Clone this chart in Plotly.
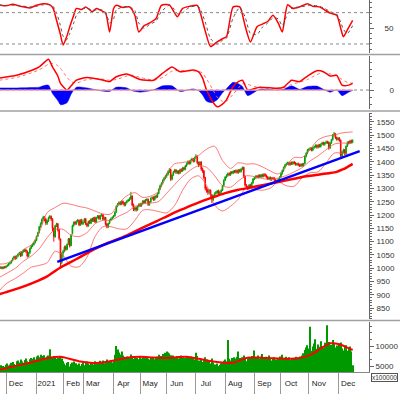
import plotly.graph_objects as go

FONT = "Liberation Sans, Arial, sans-serif"

# ---------------- x axis (trading-day index) ----------------
month_idx = [5, 28, 48, 63, 86, 106, 126, 148, 170, 192, 212, 233, 255]
month_labels = ["Dec", "2021", "Feb", "Mar", "Apr", "May", "Jun", "Jul", "Aug", "Sep", "Oct", "Nov", "Dec"]

# ---------------- daily OHLC ----------------
opens = [998,1001,1004,1000,1005,1003,1008,1011,1018,1021,1029,1038,1044,1037,1046,1053,1059,1047,1063,1066,
 1069,1064,1045,1058,1076,1085,1089,1097,1105,1121,1134,1157,1168,1185,1193,1185,1169,1178,1191,1195,
 1186,1150,1118,1161,1167,1145,1110,1022,1058,1064,1081,1071,1091,1111,1085,1130,1161,1173,1167,1177,
 1180,1162,1182,1167,1173,1186,1167,1159,1177,1169,1186,1177,1191,1173,1191,1197,1185,1199,1201,1183,
 1191,1166,1154,1169,1181,1187,1192,1197,1211,1233,1241,1247,1240,1251,1245,1237,1247,1253,1257,1261,
 1271,1239,1221,1227,1219,1233,1241,1235,1243,1253,1246,1257,1259,1239,1249,1263,1266,1257,1271,1267,
 1281,1297,1311,1319,1331,1339,1346,1353,1363,1371,1334,1351,1363,1369,1359,1365,1357,1371,1365,1377,
 1371,1385,1393,1401,1393,1406,1411,1401,1416,1421,1397,1387,1399,1373,1366,1341,1299,1295,1284,1293,
 1275,1257,1273,1281,1283,1291,1281,1287,1293,1311,1331,1343,1349,1356,1351,1361,1357,1365,1361,1367,
 1359,1369,1363,1373,1379,1346,1311,1306,1299,1313,1305,1321,1336,1341,1346,1341,1349,1343,1351,1345,
 1353,1349,1343,1335,1341,1333,1339,1339,1333,1329,1325,1335,1343,1356,1367,1379,1388,1393,1396,1389,
 1397,1392,1399,1395,1389,1393,1389,1384,1391,1385,1393,1421,1433,1445,1447,1451,1443,1453,1457,1461,
 1454,1463,1457,1466,1471,1465,1471,1475,1473,1451,1471,1483,1501,1505,1491,1483,1489,1481,1421,1437,
 1445,1429,1459,1473,1469,1479,1473]
highs = [1005,1007,1008,1007,1009,1011,1015,1020,1024,1031,1040,1047,1048,1049,1056,1062,1063,1065,1071,1073,
 1074,1067,1061,1078,1087,1093,1099,1108,1123,1137,1159,1172,1187,1197,1196,1188,1182,1194,1200,1198,
 1188,1153,1163,1171,1170,1148,1112,1060,1070,1085,1086,1093,1114,1114,1128,1164,1176,1178,1180,1185,
 1183,1184,1186,1177,1188,1189,1171,1179,1181,1188,1190,1193,1194,1193,1200,1200,1201,1205,1204,1194,
 1193,1170,1171,1184,1190,1195,1200,1214,1236,1245,1251,1252,1254,1255,1249,1250,1256,1261,1266,1287,
 1274,1243,1231,1232,1235,1244,1246,1246,1256,1257,1260,1263,1262,1252,1266,1270,1270,1273,1276,1284,
 1300,1314,1323,1334,1343,1350,1357,1367,1376,1373,1354,1366,1373,1372,1368,1368,1374,1375,1380,1381,
 1388,1397,1405,1405,1409,1415,1414,1419,1428,1424,1401,1402,1402,1378,1368,1343,1306,1300,1297,1296,
 1279,1276,1285,1290,1294,1295,1291,1297,1313,1334,1346,1353,1359,1360,1364,1365,1368,1369,1371,1371,
 1372,1373,1376,1382,1381,1348,1316,1310,1316,1317,1324,1339,1344,1349,1350,1352,1353,1354,1355,1356,
 1357,1352,1346,1344,1345,1342,1343,1342,1337,1333,1338,1346,1359,1370,1382,1391,1397,1400,1400,1400,
 1401,1402,1403,1399,1396,1397,1393,1394,1395,1396,1423,1436,1448,1451,1455,1455,1456,1461,1465,1465,
 1466,1467,1469,1475,1475,1474,1479,1479,1476,1474,1486,1504,1512,1508,1494,1493,1492,1483,1440,1449,
 1448,1461,1476,1478,1482,1483,1484]
lows = [994,998,996,997,999,1000,1005,1008,1014,1018,1026,1034,1032,1034,1042,1049,1042,1045,1058,1061,
 1058,1040,1042,1055,1072,1080,1085,1093,1102,1117,1131,1152,1164,1180,1176,1162,1163,1174,1185,1178,
 1140,1100,1115,1155,1138,1105,1005,1015,1040,1060,1066,1068,1088,1078,1083,1127,1156,1162,1163,1172,
 1158,1160,1164,1162,1170,1162,1154,1156,1166,1166,1174,1174,1170,1171,1187,1182,1182,1194,1180,1180,
 1160,1150,1151,1166,1177,1183,1188,1194,1208,1229,1236,1236,1237,1239,1232,1233,1243,1249,1252,1257,
 1232,1215,1214,1213,1216,1229,1230,1231,1239,1242,1243,1252,1234,1235,1246,1258,1253,1254,1262,1264,
 1278,1293,1306,1315,1326,1334,1340,1348,1358,1328,1330,1347,1358,1354,1354,1352,1354,1361,1362,1367,
 1368,1380,1388,1389,1390,1401,1397,1398,1411,1390,1380,1383,1366,1358,1334,1292,1284,1276,1278,1268,
 1245,1252,1268,1276,1279,1277,1276,1282,1290,1308,1327,1338,1344,1346,1347,1353,1353,1357,1356,1355,
 1355,1359,1359,1368,1340,1306,1299,1293,1296,1301,1302,1317,1331,1336,1337,1337,1339,1339,1341,1341,
 1343,1337,1331,1331,1329,1328,1333,1327,1323,1320,1321,1331,1340,1351,1362,1374,1383,1388,1385,1385,
 1388,1388,1389,1385,1385,1383,1380,1380,1381,1381,1390,1416,1428,1439,1442,1439,1439,1448,1452,1449,
 1450,1453,1453,1461,1461,1460,1466,1467,1445,1448,1467,1479,1495,1485,1479,1479,1475,1412,1415,1432,
 1425,1426,1455,1465,1466,1469,1470]
closes = [1001,1004,1000,1004,1003,1008,1011,1017,1020,1028,1037,1043,1036,1046,1052,1058,1047,1062,1066,1068,
 1064,1046,1058,1075,1084,1088,1096,1104,1120,1133,1156,1167,1184,1192,1184,1170,1178,1190,1194,1185,
 1150,1119,1160,1166,1144,1112,1024,1056,1063,1080,1072,1090,1110,1084,1125,1160,1172,1168,1176,1179,
 1163,1181,1168,1172,1185,1166,1160,1176,1170,1185,1178,1190,1174,1190,1196,1186,1198,1200,1184,1190,
 1165,1155,1168,1180,1186,1191,1196,1210,1232,1240,1246,1241,1250,1244,1238,1246,1252,1256,1260,1270,
 1238,1222,1226,1220,1232,1240,1236,1242,1252,1247,1256,1258,1240,1248,1262,1265,1258,1270,1268,1280,
 1296,1310,1318,1330,1338,1345,1352,1362,1370,1335,1350,1362,1368,1360,1364,1358,1370,1366,1376,1372,
 1384,1392,1400,1394,1405,1410,1402,1415,1420,1396,1388,1398,1372,1365,1340,1300,1294,1285,1292,1276,
 1258,1272,1280,1284,1290,1282,1286,1292,1310,1330,1342,1348,1355,1352,1360,1358,1364,1362,1366,1360,
 1368,1364,1372,1378,1345,1312,1305,1300,1312,1306,1320,1335,1340,1345,1342,1348,1344,1350,1346,1352,
 1348,1342,1336,1340,1334,1338,1338,1332,1328,1326,1334,1342,1355,1366,1378,1387,1392,1395,1390,1396,
 1393,1398,1394,1390,1392,1388,1385,1390,1386,1392,1420,1432,1444,1446,1450,1444,1452,1456,1460,1455,
 1462,1458,1465,1470,1466,1470,1474,1472,1452,1470,1482,1500,1504,1490,1484,1488,1480,1422,1436,1444,
 1430,1458,1472,1470,1478,1474,1480]
volumes = [4600,5200,4400,5000,4800,5300,5600,5100,5400,5800,6000,5500,5200,6200,6400,5900,6600,6100,5800,6500,
 6900,6200,5600,6700,7000,6800,7200,6600,7400,7600,7200,7800,7500,7300,7700,7000,7400,7600,9200,7300,
 7100,7500,7200,6800,7000,6600,7400,6900,6200,5600,5200,5800,6000,4900,5500,5900,6100,5400,5700,5300,
 5600,5000,5500,5900,5200,5800,6100,5600,5300,6000,5700,5400,6200,5800,5500,6000,6300,5900,6400,5700,
 6200,6600,6000,6300,6500,5900,6400,7800,10000,9100,8400,7900,8600,7600,7300,7000,7400,6800,7200,7900,
 7500,6800,7100,6600,7000,6700,7300,6900,7200,6500,7000,7300,6800,6600,7100,6900,7200,6700,7000,7400,
 7800,7300,7500,8000,7600,8300,8600,8400,8100,7700,7400,7600,7200,7000,7500,6900,7300,7600,7100,6800,
 7000,7300,6900,7200,7400,6800,7100,6600,8300,7500,6400,6200,6700,6000,6500,7200,6600,5800,6300,5600,
 6900,5900,5400,5200,5600,5000,5300,5700,6000,6300,6600,6100,11500,6800,6400,7000,6600,7200,6900,7300,
 8600,7000,6600,7200,7600,6800,6200,6900,7300,7000,7500,6900,8900,7200,7000,7600,6800,7400,8000,7100,
 6700,7300,6900,7600,7000,6400,6800,7200,6600,6300,6900,7400,7100,7800,7000,6600,7300,6800,7200,6500,
 7000,6400,6800,7300,6700,6900,7400,7100,7600,8200,9000,9600,10200,9400,14800,8800,9900,10600,11700,9300,
 10400,9800,11200,10000,9500,10800,10200,15200,11000,9700,10300,11500,10900,9600,10100,9800,10600,10900,9400,8900,
 9800,10200,8800,9500,9900,8600,5200]
days = list(range(len(closes)))

# ---------------- Bollinger bands (read at sample days) ----------------
bb_idx = [0,5,12,18,24,30,36,42,48,54,60,66,72,78,84,90,96,102,108,114,120,126,132,138,144,150,156,162,168,174,
          180,186,192,198,204,210,216,222,228,234,240,246,252,258,264,266]
bb_upper = [1016,1018,1038,1070,1088,1135,1209,1228,1244,1240,1232,1226,1215,1204,1204,1244,1272,1284,1266,1271,
            1289,1356,1392,1397,1403,1423,1447,1458,1405,1375,1396,1391,1392,1381,1365,1354,1386,1416,1416,1447,
            1482,1495,1500,1508,1511,1512]
bb_mid = [966,980,1000,1026,1046,1073,1115,1146,1146,1124,1119,1134,1167,1180,1180,1196,1210,1232,1242,1245,
          1251,1282,1314,1345,1369,1385,1379,1348,1310,1304,1328,1347,1344,1337,1333,1339,1348,1362,1378,1403,
          1422,1445,1466,1470,1469,1470]
bb_lower = [916,942,962,982,1004,1011,1021,1064,1048,1008,1006,1042,1119,1156,1156,1148,1148,1180,1218,1219,
            1213,1208,1236,1293,1335,1347,1311,1238,1215,1233,1260,1303,1296,1293,1301,1324,1310,1308,1340,1359,
            1362,1395,1432,1432,1427,1428]

# ---------------- long moving average (thick red) ----------------
ma_idx = [0,10,20,28,36,46,54,60,72,82,93,106,119,128,136,148,160,170,180,186,196,206,216,224,232,241,248,254,258,262,266]
ma_long = [903,918,935,951,970,1003,1024,1040,1073,1096,1117,1148,1178,1200,1218,1243,1265,1282,1295,1300,
           1310,1320,1330,1338,1346,1352,1357,1362,1370,1380,1392]

# ---------------- trend line (blue) ----------------
trend_idx = [43.6, 271.3]
trend_val = [1024, 1440]

# ---------------- stochastic ----------------
stoch_idx = [0,5,10,16,23,28,33,38,40.5,43,45.7,48,50.7,53,56,58,62,65,70,73,76,80,83,86,88,93,98,102,105,109,
             113,118,122,128,132,134,138,143,149,151,155,159,164,168,171,176,181,185,189,194,198,202,206,210,213,
             217,221,226,232,236,241,245,249,254,257,259,262,266]
stoch_k = [95,93,96,92,89,94,97,95,88,66,41,18,34,53,75,88,86,91,82,88,85,79,43,88,94,90,91,75,43,55,
           60,69,94,95,79,72,88,92,94,82,45,15,24,30,34,91,91,55,24,53,58,63,75,60,43,
           95,88,91,97,92,91,85,79,75,50,34,47,65]
stoch_d = [94,94,94,93,91,92,95,95,92,80,58,35,28,40,60,75,86,89,85,85,86,81,60,68,85,91,91,84,60,50,
           57,64,82,94,86,78,80,90,93,88,62,30,20,27,31,70,90,72,40,38,52,60,70,68,55,
           78,90,90,94,94,92,88,82,77,62,48,40,55]
stoch_levels = [20, 80]

# ---------------- MACD ----------------
macd_idx = [0,13,25,30,33,37,40,44,46,51,54,58,66,76,83,88,96,100,106,116,123,130,136,146,150,153,156,160,164,168,
            171,176,180,183,187,196,209,214,220,226,232,239,244,249,254,258,263,266]
macd_line = [17,21,28.6,33,38,44,33,20,9.5,0,6,14,18,15,12,19,23,20,15,14,24,33,26,28.6,26,17,0,-15,-24,-20,
             -14,5,12,14,0,4,2.4,4,14,12,20,27.6,26,20,21,7,7,9.5]
macd_signal = [14,18,25,29,32,37,38,35,31,18,12,10,15,16,14,15,20,21,18,14,18,27,28,27,27,24,16,3,-10,-16,
               -16,-6,3,9,8,3,2.5,3,8,11,15,22,25,23,21,15,10,10]
macd_hist = [3,3,3.6,4,6,7,-5,-15,-21,-18,-6,4,3,-1,-2,4,3,-1,-3,0,6,6,-2,1.6,-1,-7,-16,-18,-14,-4,
             2,11,9,5,-8,1,0,1,6,1,5,5.6,1,-3,0,-8,-3,-0.5]

# ---------------- volume moving average ----------------
volma_idx = [0,12,23,35,46,54,61,71,80,88,97,106,116,126,134,141,150,161,170,176,186,193,201,210,219,226,231,236,242,249,
             253,257,262,266]
vol_ma = [4000,5000,5800,6900,7300,6700,6100,5750,6000,6500,7100,7300,7100,7000,7200,7300,6800,6100,5800,5800,
          7000,7100,7000,6900,6800,7000,7400,8100,9400,10700,10600,10300,9600,9000]

# ---------------- axis labels ----------------
price_ticks = list(range(850, 1551, 50))
vol_ticks = [5000, 10000]
vol_tick_text = ["5000", "10000"]

X_RANGE = [0.48, 278.3]
H = 372.0  # plot-area height in px


def dom(top_px, bot_px):
    return [1 - bot_px / H, 1 - top_px / H]


fig = go.Figure()

# stochastic panel
fig.add_trace(go.Scatter(x=stoch_idx, y=stoch_k, mode="lines", xaxis="x", yaxis="y",
                         line=dict(color="#ff0000", width=1.5, shape="spline", smoothing=0.6)))
fig.add_trace(go.Scatter(x=stoch_idx, y=stoch_d, mode="lines", xaxis="x", yaxis="y",
                         line=dict(color="#555555", width=1, dash="dot", shape="spline", smoothing=0.6)))

# MACD panel
fig.add_trace(go.Scatter(x=macd_idx, y=macd_hist, mode="lines", xaxis="x2", yaxis="y2", fill="tozeroy",
                         fillcolor="#0000ff", line=dict(color="#0000ff", width=0.5, shape="spline", smoothing=0.6)))
fig.add_trace(go.Scatter(x=macd_idx, y=macd_signal, mode="lines", xaxis="x2", yaxis="y2",
                         line=dict(color="#ff7070", width=1, dash="dot", shape="spline", smoothing=0.6)))
fig.add_trace(go.Scatter(x=macd_idx, y=macd_line, mode="lines", xaxis="x2", yaxis="y2",
                         line=dict(color="#ff0000", width=1.5, shape="spline", smoothing=0.6)))

# price panel
for band in (bb_upper, bb_mid, bb_lower):
    fig.add_trace(go.Scatter(x=bb_idx, y=band, mode="lines", xaxis="x3", yaxis="y3",
                             line=dict(color="#ff5555", width=0.8, shape="spline", smoothing=0.8)))
fig.add_trace(go.Scatter(x=ma_idx, y=ma_long, mode="lines", xaxis="x3", yaxis="y3",
                         line=dict(color="#ff0000", width=2.5, shape="spline", smoothing=0.6)))
fig.add_trace(go.Scatter(x=trend_idx, y=trend_val, mode="lines", xaxis="x3", yaxis="y3",
                         line=dict(color="#0000ff", width=2.5)))
fig.add_trace(go.Candlestick(x=days, open=opens, high=highs, low=lows, close=closes, xaxis="x3", yaxis="y3",
                             whiskerwidth=0,
                             increasing=dict(line=dict(color="#00a000", width=1), fillcolor="#00a000"),
                             decreasing=dict(line=dict(color="#ff0000", width=1), fillcolor="#ff0000")))

# volume panel
fig.add_trace(go.Bar(x=days, y=volumes, xaxis="x4", yaxis="y4", marker=dict(color="#009900", line=dict(width=0))))
fig.add_trace(go.Scatter(x=volma_idx, y=vol_ma, mode="lines", xaxis="x4", yaxis="y4",
                         line=dict(color="#ff0000", width=2, shape="spline", smoothing=0.6)))

tickfont = dict(family=FONT, size=8, color="#333333")
common_y = dict(side="right", showgrid=False, zeroline=False, showline=True, linecolor="#666666", linewidth=1,
                ticks="outside", ticklen=4, tickcolor="#666666", tickfont=tickfont, fixedrange=True)
common_x = dict(range=X_RANGE, showgrid=False, zeroline=False, showticklabels=False, ticks="", matches="x4")

shapes = []
for lv in stoch_levels:
    shapes.append(dict(type="line", xref="x domain", yref="y", x0=0, x1=1, y0=lv, y1=lv,
                       line=dict(color="#888888", width=1, dash="dot")))
shapes.append(dict(type="line", xref="x2 domain", yref="y2", x0=0, x1=1, y0=0, y1=0,
                   line=dict(color="#888888", width=1, dash="dot")))
shapes.append(dict(type="line", xref="x2", yref="y2", x0=days[0], x1=days[-1], y0=0, y1=0,
                   line=dict(color="#ff9a9a", width=1.2)))
for ypx in (54.5, 111.0, 320.5):
    yp = 1 - ypx / H
    shapes.append(dict(type="line", xref="paper", yref="paper", x0=0, x1=1.09, y0=yp, y1=yp,
                       line=dict(color="#a0a0a0", width=1.5)))

fig.update_layout(
    width=400, height=394, margin=dict(l=0, r=31, t=0, b=22, pad=0),
    paper_bgcolor="white", plot_bgcolor="white", showlegend=False, bargap=0.2,
    xaxis=dict(domain=[0, 1], anchor="y", **common_x),
    xaxis2=dict(domain=[0, 1], anchor="y2", **common_x),
    xaxis3=dict(domain=[0, 1], anchor="y3", rangeslider=dict(visible=False), **common_x),
    xaxis4=dict(domain=[0, 1], anchor="y4", range=X_RANGE, showgrid=False, zeroline=False,
                showline=True, linecolor="#888888", linewidth=1,
                tickmode="array", tickvals=[m + 7.5 for m in month_idx], ticktext=month_labels, ticks="",
                tickfont=dict(family=FONT, size=8, color="#222222"), ticklabelstandoff=3,
                minor=dict(tickmode="array", tickvals=month_idx, ticks="outside", ticklen=22,
                           tickcolor="#999999", tickwidth=1)),
    yaxis=dict(domain=dom(0, 53), anchor="x", range=[2.7, 104.2], tickmode="array", tickvals=[50],
               ticktext=["50"], ticklabelstandoff=9,
               minor=dict(tickmode="linear", tick0=0, dtick=10, ticks="outside", ticklen=2,
                          tickcolor="#666666"), **common_y),
    yaxis2=dict(domain=dom(56, 109), anchor="x2", range=[-27.1, 48.6], tickmode="array", tickvals=[0],
                ticktext=["0"], ticklabelstandoff=14,
                minor=dict(tickmode="linear", tick0=0, dtick=10, ticks="outside", ticklen=2,
                           tickcolor="#666666"), **common_y),
    yaxis3=dict(domain=dom(113, 319.2), anchor="x3", range=[809.1, 1582.75], tickmode="array",
                tickvals=price_ticks, ticktext=[str(v) for v in price_ticks], ticklabelstandoff=1,
                minor=dict(tickmode="linear", tick0=0, dtick=10, ticks="outside", ticklen=2,
                           tickcolor="#666666"), **common_y),
    yaxis4=dict(domain=dom(321.5, 372), anchor="x4", range=[3500, 16125], tickmode="array",
                tickvals=vol_ticks, ticktext=vol_tick_text, ticklabelstandoff=0,
                minor=dict(tickmode="linear", tick0=0, dtick=5000 / 3, ticks="outside", ticklen=2,
                           tickcolor="#666666"), **common_y),
    shapes=shapes,
    annotations=[dict(text="x100000", xref="paper", yref="paper", x=370.5 / 369, y=1 - 377 / H,
                      xanchor="left", yanchor="middle", showarrow=False,
                      font=dict(family=FONT, size=6.5, color="#333333"),
                      bordercolor="#555555", borderwidth=1, borderpad=0, bgcolor="white")],
)

fig.write_html("out.html", config={"displayModeBar": False},
               post_script="document.body.style.margin='0';document.body.style.overflow='hidden';")
